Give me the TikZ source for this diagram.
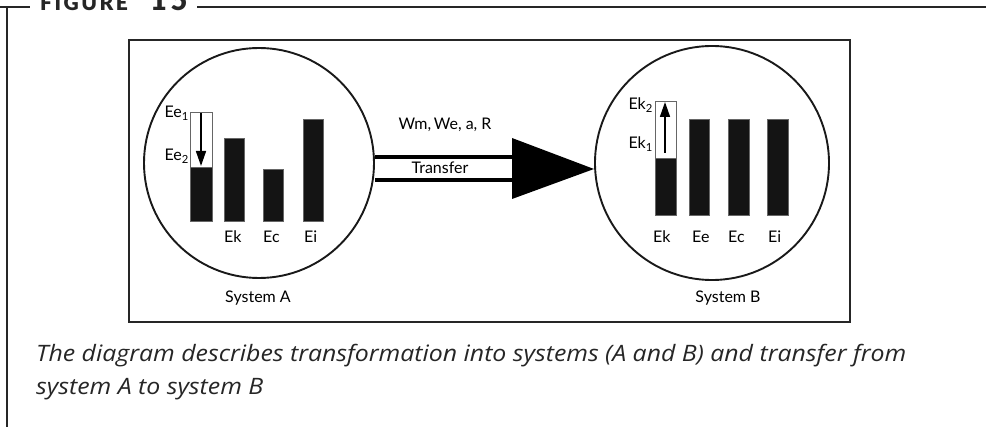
\documentclass[tikz,border=0pt]{standalone}
\usepackage{fontspec}
\setmainfont{Lato}
\newfontfamily\capfont[FakeStretch=1.1]{Open Sans}
\newfontfamily\titlefont[LetterSpace=12]{Lato Black}
\usetikzlibrary{arrows.meta}
\begin{document}
\begin{tikzpicture}[x=1pt,y=-1pt,
  lbl/.style={font=\fontsize{16}{18}\selectfont, inner sep=0pt},
  barfill/.style={fill=black!92, draw=black!60, line width=0.6pt},
  barbox/.style={draw=black!60, line width=0.8pt, fill=white},
  frame/.style={draw=black!85, line width=1.6pt},
  sys/.style={circle, draw=black!90, line width=1.9pt, inner sep=0pt},
  uparr/.style={line width=1.6pt, -{Triangle[length=15pt,width=10pt]}},
  ttl/.style={anchor=base west, inner sep=0pt, text=black!85}
]
\useasboundingbox (0,0) rectangle (986,427);
% outer frame
\coordinate (f0) at (0,7);
\coordinate (f1) at (30,7);
\coordinate (f2) at (197,7);
\coordinate (f3) at (986,7);
\coordinate (fc) at (7,7);
\coordinate (fd) at (7,427);
\draw[frame] (f0) -- (f1);
\draw[frame] (f2) -- (f3);
\draw[frame] (fc) -- (fd);
\node[ttl, font=\titlefont\fontsize{21}{24}\selectfont] (title) at (40,11) {FIGURE};
\node[ttl, font=\titlefont\fontsize{29}{32}\selectfont] (titlenum) at (150,11) {15};
% inner box
\draw[draw=black!85, line width=1.3pt] (129,40) rectangle (850,322);
% systems
\node[sys, minimum size=230pt] (cA) at (259,163) {};
\node[sys, minimum size=234pt] (cB) at (712,163) {};
% transfer arrow
\coordinate (s1a) at (cA.east |- 0,157);
\coordinate (s1b) at (513,157);
\coordinate (s2a) at (cA.east |- 0,180);
\coordinate (s2b) at (513,180);
\draw[line width=4pt] (s1a) -- (s1b);
\draw[line width=4pt] (s2a) -- (s2b);
\coordinate (t1) at (512,138);
\coordinate (t2) at (512,199);
\coordinate (tip) at (594,169);
\fill (t1) -- (tip) -- (t2) -- cycle;
\node[lbl] (tr) at (440,168) {Transfer};
\node[lbl] (wm) at (445,125) {Wm,\,We, a, R};
% System A bars
\draw[barbox] (190,112) rectangle (212,221);
\draw[barfill] (190,167) rectangle (212,221);
\coordinate (aa1) at (201,113);
\coordinate (aa2) at (201,166);
\draw[uparr] (aa1) -- (aa2);
\draw[barfill] (224,138) rectangle (244,221);
\draw[barfill] (263,169) rectangle (283,221);
\draw[barfill] (303,119) rectangle (323,221);
\node[lbl, anchor=base west] (lEk) at (224,243) {Ek};
\node[lbl, anchor=base west] (lEc) at (263,243) {Ec};
\node[lbl, anchor=base west] (lEi) at (304,243) {Ei};
\node[lbl, anchor=base east] (lEe1) at (189,118) {Ee\textsubscript{1}};
\node[lbl, anchor=base east] (lEe2) at (189,161) {Ee\textsubscript{2}};
\node[lbl, anchor=base] (sA) at (258,303) {System A};
% System B bars
\draw[barbox] (655,101) rectangle (676,215);
\draw[barfill] (655,158) rectangle (676,215);
\coordinate (ba1) at (665,153);
\coordinate (ba2) at (665,102);
\draw[uparr] (ba1) -- (ba2);
\draw[barfill] (689,119) rectangle (709,215);
\draw[barfill] (728,119) rectangle (749,215);
\draw[barfill] (767,119) rectangle (788,215);
\node[lbl, anchor=base west] (mEk) at (653,243) {Ek};
\node[lbl, anchor=base west] (mEe) at (692,243) {Ee};
\node[lbl, anchor=base west] (mEc) at (728,243) {Ec};
\node[lbl, anchor=base west] (mEi) at (768,243) {Ei};
\node[lbl, anchor=base east] (mEk2) at (653,110) {Ek\textsubscript{2}};
\node[lbl, anchor=base east] (mEk1) at (653,149) {Ek\textsubscript{1}};
\node[lbl, anchor=base] (sB) at (728,303) {System B};
% caption
\node[anchor=base west, inner sep=0pt, font=\capfont\itshape\fontsize{22.6}{24}\selectfont, text=black!85] (cap1) at (36,362) {The diagram describes transformation into systems (A and B) and transfer from};
\node[anchor=base west, inner sep=0pt, font=\capfont\itshape\fontsize{22.6}{24}\selectfont, text=black!85] (cap2) at (36,395) {system A to system B};
\end{tikzpicture}
\end{document}
